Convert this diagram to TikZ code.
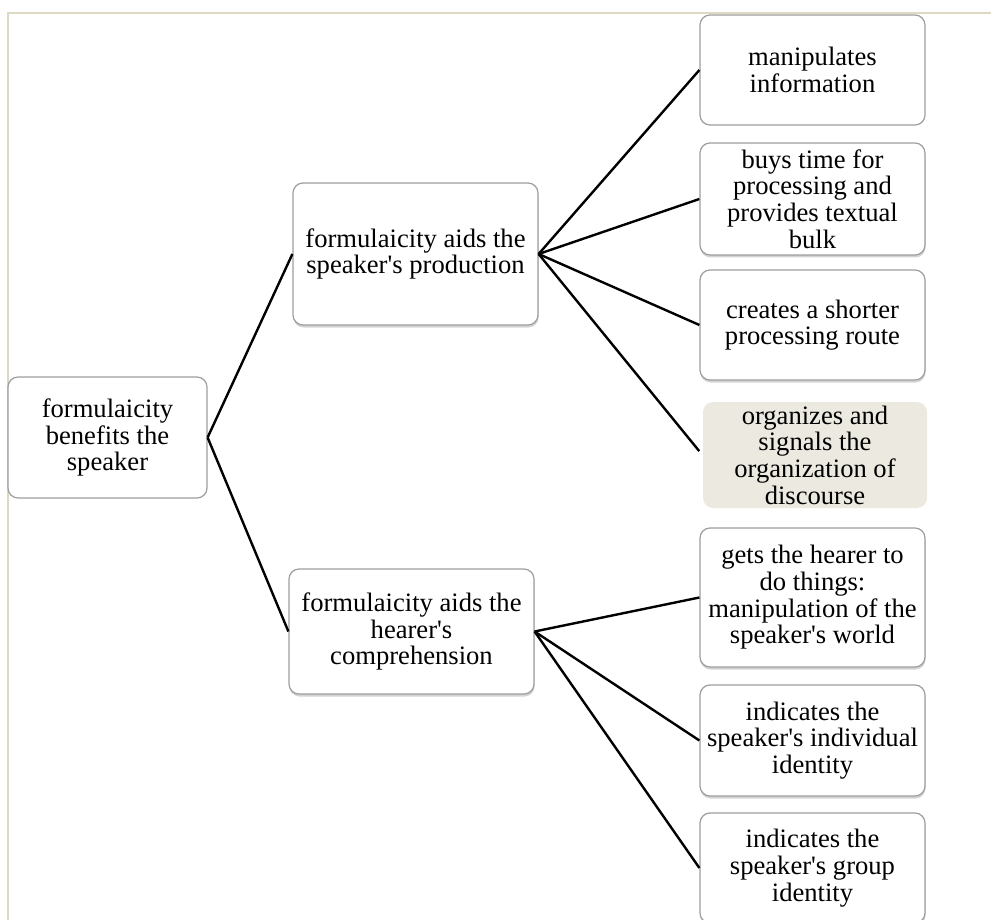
\documentclass[tikz,border=0pt]{standalone}
\usepackage{fontspec}
\newfontfamily\boxfont{Liberation Serif}
\usetikzlibrary{shadows}
\definecolor{framebeige}{RGB}{221,217,195}
\definecolor{notefill}{RGB}{236,234,224}

\begin{document}
\begin{tikzpicture}[x=1pt,y=-1pt]
\tikzstyle{box}=[draw=black!38, line width=1.2pt, rounded corners=10pt, fill=white, align=center, inner sep=2pt, font=\boxfont\fontsize{26.6pt}{26.7pt}\selectfont]
\tikzstyle{shade}=[drop shadow={shadow xshift=0.5pt, shadow yshift=-2.5pt, opacity=0.35}]
\tikzstyle{edge}=[line width=2.4pt]
    \useasboundingbox (0,0) rectangle (991,920);
    \draw[framebeige, line width=2pt] (8,920) -- (8,13) -- (991,13);

    \node[box, minimum width=199pt, minimum height=121pt] (root) at (107.5,437.5) {formulaicity\\benefits the\\speaker};
    \node[box, shade, minimum width=245pt, minimum height=142pt] (prod) at (415.5,254) {formulaicity aids the\\speaker's production};
    \node[box, shade, minimum width=245pt, minimum height=125pt] (comp) at (411.5,631.5) {formulaicity aids the\\hearer's\\comprehension};

    \node[box, minimum width=225pt, minimum height=110pt] (l1) at (812.5,70) {manipulates\\information};
    \node[box, shade, minimum width=225pt, minimum height=112pt] (l2) at (812.5,199) {buys time for\\processing and\\provides textual\\bulk};
    \node[box, shade, minimum width=225pt, minimum height=110pt] (l3) at (812.5,325) {creates a shorter\\processing route};
    \node[box, draw=none, fill=notefill, minimum width=224pt, minimum height=106pt] (l4) at (815,455) {organizes and\\signals the\\organization of\\discourse};
    \node[box, shade, minimum width=225pt, minimum height=139pt] (l5) at (812.5,597.5) {gets the hearer to\\do things:\\manipulation of the\\speaker's world};
    \node[box, shade, minimum width=225pt, minimum height=111pt] (l6) at (812.5,740.5) {indicates the\\speaker's individual\\identity};
    \node[box, shade, minimum width=225pt, minimum height=110pt] (l7) at (812.5,868) {indicates the\\speaker's group\\identity};

    \draw[edge] (root.east) -- (prod.west);
    \draw[edge] (root.east) -- (comp.west);

    \draw[edge] (prod.east) -- (l1.west);
    \draw[edge] (prod.east) -- (l2.west);
    \draw[edge] (prod.east) -- (l3.west);
    \draw[edge, shorten >=5pt] (prod.east) -- (l4.west);

    \draw[edge] (comp.east) -- (l5.west);
    \draw[edge] (comp.east) -- (l6.west);
    \draw[edge] (comp.east) -- (l7.west);

\end{tikzpicture}
\end{document}
